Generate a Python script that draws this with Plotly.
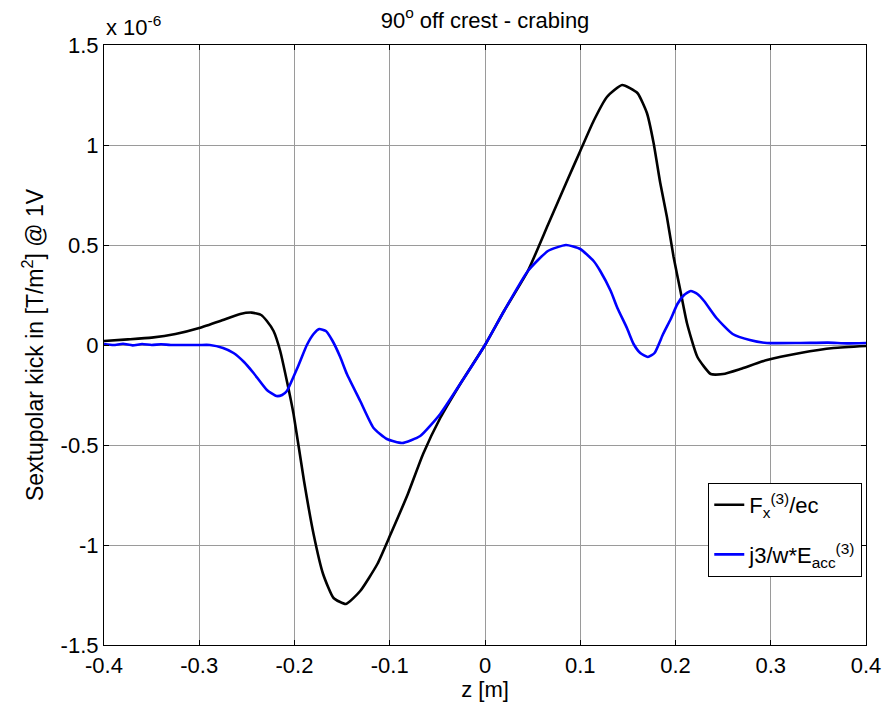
import numpy as np
import plotly.graph_objects as go

SCALE = 1e-6

# Black curve: F_x^(3)/ec  (values in units of 1e-6)
z_f = [-0.4, -0.375, -0.35, -0.325, -0.3, -0.278, -0.257, -0.245, -0.235, -0.229, -0.222,
       -0.215, -0.208, -0.201, -0.19, -0.18, -0.17, -0.159, -0.146, -0.131, -0.113,
       -0.099, -0.081, -0.065, -0.047, -0.026, 0.0, 0.02, 0.045, 0.066, 0.087, 0.1,
       0.114, 0.128, 0.144, 0.16, 0.17, 0.177, 0.184, 0.191, 0.198, 0.205, 0.212,
       0.223, 0.237, 0.25, 0.268, 0.296, 0.331, 0.366, 0.4]
f_vals = [0.02, 0.028, 0.037, 0.055, 0.085, 0.12, 0.155, 0.162, 0.15, 0.12, 0.07,
          -0.03, -0.18, -0.345, -0.68, -0.945, -1.145, -1.265, -1.295, -1.23, -1.095,
          -0.945, -0.745, -0.545, -0.365, -0.195, 0.0, 0.17, 0.37, 0.6, 0.83, 0.97,
          1.12, 1.24, 1.3, 1.26, 1.16, 1.01, 0.81, 0.64, 0.44, 0.275, 0.11,
          -0.06, -0.145, -0.145, -0.12, -0.075, -0.04, -0.015, -0.005]

# Blue curve: j3/w*E_acc^(3)  (values in units of 1e-6)
z_e = [-0.4, -0.39, -0.38, -0.37, -0.36, -0.35, -0.34, -0.33, -0.3, -0.289, -0.275,
       -0.264, -0.253, -0.243, -0.229, -0.219, -0.213, -0.208, -0.197, -0.187, -0.18,
       -0.174, -0.167, -0.16, -0.152, -0.145, -0.131, -0.117, -0.103, -0.087, -0.068,
       -0.047, -0.022, 0.0, 0.02, 0.045, 0.066, 0.085, 0.1, 0.114, 0.121, 0.132,
       0.139, 0.149, 0.156, 0.163, 0.171, 0.178, 0.187, 0.195, 0.202, 0.209, 0.216,
       0.223, 0.23, 0.243, 0.26, 0.278, 0.296, 0.33, 0.36, 0.38, 0.4]
e_vals = [0.005, 0.0, 0.006, -0.002, 0.005, 0.0, 0.004, 0.0, 0.0, 0.0, -0.015,
          -0.04, -0.085, -0.14, -0.225, -0.255, -0.25, -0.23, -0.115, 0.0, 0.055,
          0.08, 0.07, 0.02, -0.06, -0.145, -0.28, -0.415, -0.47, -0.49, -0.455,
          -0.345, -0.165, 0.0, 0.17, 0.37, 0.47, 0.5, 0.48, 0.42, 0.37, 0.27,
          0.185, 0.085, 0.005, -0.04, -0.06, -0.04, 0.055, 0.13, 0.205, 0.25, 0.27,
          0.255, 0.22, 0.135, 0.055, 0.025, 0.01, 0.01, 0.012, 0.008, 0.01]

x_ticks = [-0.4, -0.3, -0.2, -0.1, 0, 0.1, 0.2, 0.3, 0.4]
x_ticktext = ["-0.4", "-0.3", "-0.2", "-0.1", "0", "0.1", "0.2", "0.3", "0.4"]
y_ticks = [-1.5, -1, -0.5, 0, 0.5, 1, 1.5]
y_ticktext = ["-1.5", "-1", "-0.5", "0", "0.5", "1", "1.5"]

FONT = "Liberation Sans, Arial, Helvetica, sans-serif"
FS = 22

fig = go.Figure()
fig.add_trace(go.Scatter(
    x=z_f, y=np.array(f_vals) * SCALE, mode="lines",
    line=dict(color="#000000", width=2.6, shape="spline", smoothing=0.5),
    name="F<sub>x</sub><sup>(3)</sup>/ec", legendgroup="f"))
fig.add_trace(go.Scatter(
    x=z_e, y=np.array(e_vals) * SCALE, mode="lines",
    line=dict(color="#0000ff", width=2.6, shape="spline", smoothing=0.5),
    name="j3/w*E<sub>acc</sub><sup>(3)</sup>", legendgroup="e"))

axis_common = dict(
    showline=True, linecolor="#000000", linewidth=1.2, mirror="ticks",
    ticks="inside", ticklen=5, tickcolor="#000000", tickwidth=1,
    showgrid=True, gridcolor="#9a9a9a", gridwidth=1, zeroline=False,
    tickfont=dict(family=FONT, size=FS, color="#000000"),
)

fig.update_xaxes(
    range=[-0.4, 0.4], tickvals=x_ticks, ticktext=x_ticktext,
    title=dict(text="z [m]", font=dict(family=FONT, size=FS, color="#000"), standoff=4),
    **axis_common)
fig.update_yaxes(
    range=[-1.5 * SCALE, 1.5 * SCALE], tickvals=[v * SCALE for v in y_ticks],
    ticktext=y_ticktext,
    title=dict(text="Sextupolar kick in [T/m<sup>2</sup>] @ 1V",
               font=dict(family=FONT, size=23, color="#000"), standoff=10),
    **axis_common)

fig.update_layout(
    width=895, height=707,
    margin=dict(l=104, r=29, t=45, b=62, autoexpand=False),
    paper_bgcolor="#ffffff", plot_bgcolor="#ffffff",
    font=dict(family=FONT, size=FS, color="#000000"),
    title=dict(text="90<sup>o</sup> off crest - crabing", x=0.5, xref="paper",
               xanchor="center", y=1 - 20 / 707, yanchor="middle",
               font=dict(family=FONT, size=FS, color="#000")),
    showlegend=True,
    legend=dict(x=0.793, y=0.27, xanchor="left", yanchor="top",
                bgcolor="#ffffff", bordercolor="#000000", borderwidth=1,
                tracegroupgap=18,
                font=dict(family=FONT, size=FS, color="#000")),
    annotations=[dict(text="x 10<sup>-6</sup>", xref="paper", yref="paper",
                      x=0.0, y=1.005, xanchor="left", yanchor="bottom",
                      showarrow=False, font=dict(family=FONT, size=FS, color="#000"))],
)

fig.write_html("out.html")
